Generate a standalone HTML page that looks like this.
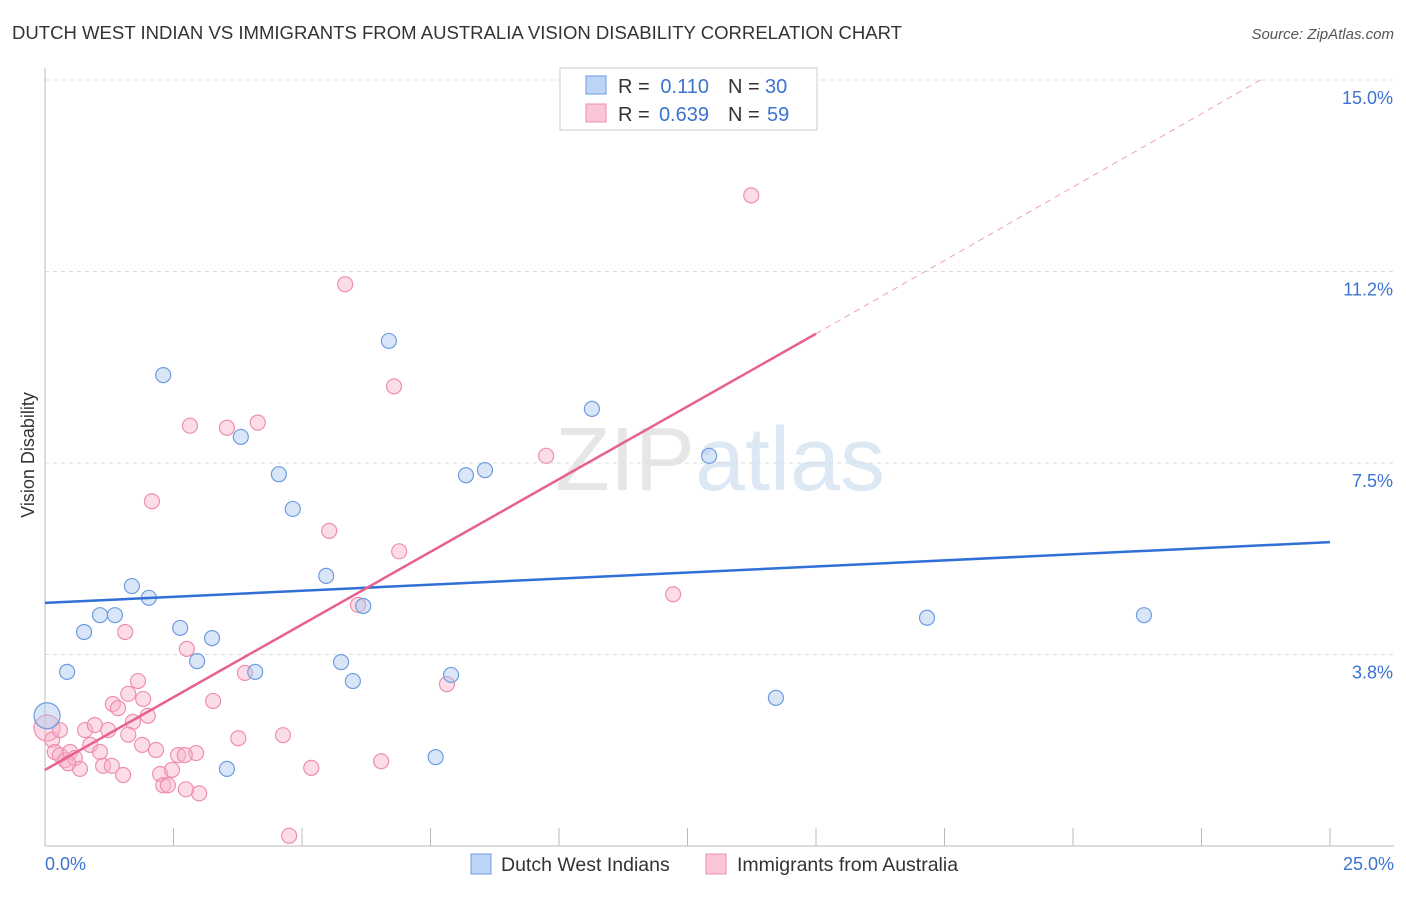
<!DOCTYPE html>
<html><head><meta charset="utf-8"><style>
body{margin:0;background:#fff;font-family:"Liberation Sans",sans-serif}
svg text{font-family:"Liberation Sans",sans-serif}
</style></head><body>
<svg id="c" width="1406" height="892">
<text x="12" y="39" font-size="18" fill="#333" textLength="890" lengthAdjust="spacingAndGlyphs">DUTCH WEST INDIAN VS IMMIGRANTS FROM AUSTRALIA VISION DISABILITY CORRELATION CHART</text>
<text x="1394" y="39" font-size="15" fill="#555" text-anchor="end" font-style="italic">Source: ZipAtlas.com</text>
<text x="720" y="490" font-size="90" fill="#e6e6e6" text-anchor="middle" font-family="Liberation Serif">ZIP<tspan fill="#dde8f5" font-family="Liberation Sans">atlas</tspan></text>
<text x="34" y="455" font-size="18" fill="#333" text-anchor="middle" transform="rotate(-90 34 455)">Vision Disability</text>
<g id="grid"></g><g id="marks"></g>
<g>
<rect x="560" y="68" width="257" height="62" fill="#fff" stroke="#ccc"/>
<rect x="586" y="76" width="20" height="18" fill="#bcd4f5" stroke="#6f9be0"/>
<rect x="586" y="104" width="20" height="18" fill="#fac6d6" stroke="#ee8fac"/>
<text x="618" y="93" font-size="20" fill="#333">R =</text>
<text x="709" y="93" font-size="20" fill="#3b73d1" text-anchor="end">0.110</text>
<text x="728" y="93" font-size="20" fill="#333">N =</text>
<text x="765" y="93" font-size="20" fill="#3b73d1">30</text>
<text x="618" y="121" font-size="20" fill="#333">R =</text>
<text x="709" y="121" font-size="20" fill="#3b73d1" text-anchor="end">0.639</text>
<text x="728" y="121" font-size="20" fill="#333">N =</text>
<text x="767" y="121" font-size="20" fill="#3b73d1">59</text>
</g>
<g>
<rect x="471" y="854" width="20" height="20" fill="#bcd4f5" stroke="#6f9be0"/>
<text x="501" y="871" font-size="19.5" fill="#333">Dutch West Indians</text>
<rect x="706" y="854" width="20" height="20" fill="#fac6d6" stroke="#ee8fac"/>
<text x="737" y="871" font-size="19.5" fill="#333">Immigrants from Australia</text>
</g>
</svg>
<script>
const yTicks=[3.75,7.5,11.25,15];
const yTickLabels=["3.8%","7.5%","11.2%","15.0%"];
const xTickVals=[0,2.5,5,7.5,10,12.5,15,17.5,20,22.5,25];
const blueX=[0.04,0.43,0.76,1.07,1.36,1.69,2.02,2.30,2.63,2.96,3.25,3.54,3.81,4.09,4.55,4.82,5.47,5.76,5.99,6.19,6.69,7.60,7.90,8.19,8.56,10.64,12.92,14.22,17.16,21.38];
const blueY=[2.55,3.41,4.19,4.52,4.52,5.09,4.86,9.22,4.27,3.62,4.07,1.51,8.01,3.41,7.28,6.60,5.29,3.60,3.23,4.70,9.89,1.74,3.35,7.26,7.36,8.56,7.64,2.90,4.47,4.52];
const pinkX=[0.04,0.14,0.19,0.29,0.39,0.49,0.58,0.68,0.78,0.88,0.97,1.07,1.13,1.23,1.32,1.42,1.52,1.56,1.62,1.71,1.81,1.91,2.00,2.08,2.16,2.24,2.30,2.39,2.47,2.59,2.76,2.82,2.94,3.00,3.27,3.54,3.76,4.14,3.89,4.63,4.75,5.18,5.53,5.84,6.09,6.54,6.79,6.89,7.82,9.75,12.22,13.74,1.30,0.29,2.74,2.72,0.45,1.62,1.89];
const pinkY=[2.31,2.08,1.84,1.78,1.68,1.84,1.72,1.51,2.27,1.98,2.37,1.84,1.57,2.27,2.78,2.70,1.39,4.19,2.98,2.43,3.23,2.88,2.55,6.75,1.88,1.41,1.19,1.19,1.49,1.78,3.86,8.23,1.82,1.03,2.84,8.19,2.11,8.29,3.39,2.17,0.20,1.53,6.17,11.00,4.72,1.66,9.00,5.77,3.17,7.64,4.93,12.74,1.57,2.27,1.11,1.78,1.62,2.18,1.98];
const X=v=>45+v*51.4, Y=v=>846-v*51.07;
const NS="http://www.w3.org/2000/svg";
function el(t,a,p){const e=document.createElementNS(NS,t);for(const k in a)e.setAttribute(k,a[k]);document.getElementById(p).appendChild(e);return e;}
yTicks.forEach((v,i)=>{
 const l=el('line',{x1:45,x2:1394,y1:Y(v),y2:Y(v),stroke:'#ddd','stroke-dasharray':'4,4'},'grid');
 
 
 const t=el('text',{x:1393,y:Y(v)+24,'font-size':18,fill:'#3b73d1','text-anchor':'end'},'grid');t.textContent=yTickLabels[i];
 
 
});
let ax=el('line',{x1:45,x2:45,y1:68,y2:846,stroke:'#bbb'},'grid');


ax=el('line',{x1:45,x2:1394,y1:846,y2:846,stroke:'#bbb'},'grid');


xTickVals.forEach(v=>{const t=el('line',{x1:X(v),x2:X(v),y1:828,y2:846,stroke:'#bbb'},'grid');
 
 });
let t=el('text',{x:45,y:870,'font-size':18,fill:'#3b73d1'},'grid');t.textContent='0.0%';


t=el('text',{x:1394,y:870,'font-size':18,fill:'#3b73d1','text-anchor':'end'},'grid');t.textContent='25.0%';


pinkX.forEach((x,i)=>{const c=el('circle',{cx:X(x),cy:Y(pinkY[i]),r:i==0?13:7.5,fill:'rgba(248,180,202,0.45)',stroke:'#ee8fac','stroke-width':1.2},'marks');
 
 });
blueX.forEach((x,i)=>{const c=el('circle',{cx:X(x),cy:Y(blueY[i]),r:i==0?13:7.5,fill:'rgba(170,200,240,0.45)',stroke:'#6f9be0','stroke-width':1.2},'marks');
 
 });
let ln=el('line',{x1:X(0),y1:Y(4.76),x2:X(25),y2:Y(5.95),stroke:'#2f6fd6','stroke-width':2.5},'marks');


ln=el('line',{x1:X(0),y1:Y(1.49),x2:X(15),y2:Y(10.03),stroke:'#e8608e','stroke-width':2.5},'marks');


ln=el('line',{x1:X(15),y1:Y(10.03),x2:X(23.65),y2:Y(15),stroke:'#eea0b8','stroke-width':1,'stroke-dasharray':'6,5'},'marks');


</script>
</body></html>
